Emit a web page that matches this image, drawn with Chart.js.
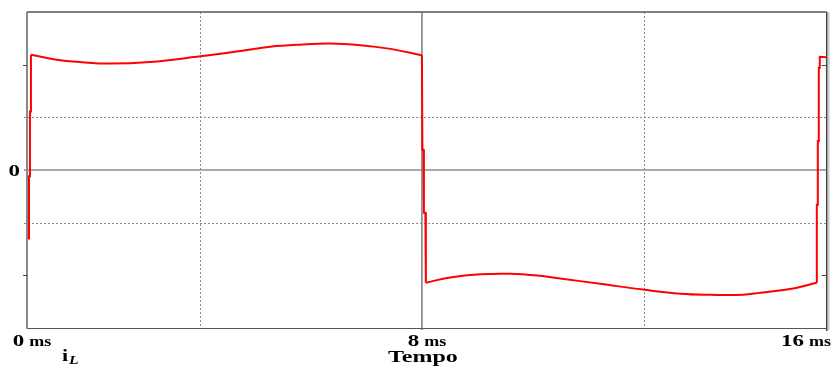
<!DOCTYPE html>
<html>
<head>
<meta charset="utf-8">
<script src="https://cdn.jsdelivr.net/npm/chart.js@4.4.0/dist/chart.umd.min.js"></script>
<style>
  html, body { margin: 0; padding: 0; background: #fff; }
  #wrap { width: 835px; height: 367px; }
</style>
</head>
<body>
<div id="wrap"><canvas id="grafico" width="835" height="367"></canvas></div>
<script>
// tempo em ms
const tempo = [
  0.04, 0.04, 0.06, 0.06, 0.08, 0.08,
  0.57, 1.07, 1.68, 2.49, 3.51, 4.32, 4.93, 5.53, 6.14, 6.75, 7.36, 8.00,
  8.01, 8.03, 8.04, 8.07, 8.08,
  8.57, 9.18, 9.79, 10.40, 10.80, 11.61, 12.48, 13.24, 13.84, 14.51, 14.86, 15.46, 16.00,
  16.00, 16.02, 16.02, 16.04, 16.04, 16.06, 16.06, 16.19
];
// corrente iL (unidades da grade)
const corrente = [
  -1.32, -0.12, -0.12, 1.11, 1.11, 2.19,
  2.10, 2.05, 2.02, 2.05, 2.16, 2.26, 2.34, 2.38, 2.40, 2.37, 2.30, 2.18,
  0.39, 0.39, -0.81, -0.81, -2.14,
  -2.04, -1.98, -1.97, -2.01, -2.06, -2.16, -2.27, -2.35, -2.37, -2.37, -2.33, -2.26, -2.14,
  -0.66, -0.66, 0.55, 0.55, 1.94, 1.94, 2.15, 2.14
];
// trechos: [inicio, fim, suave?]
const trechos = [[0, 5, false], [5, 17, true], [17, 22, false], [22, 35, true], [35, 43, false]];
const rotulosTempo = [0, 8, 16];
const gradeTempo = [3.5, 12.5];      // pontilhadas verticais
const linhaTempo = [8];              // linha cheia vertical
const gradeCorrente = [-1, 1];       // pontilhadas horizontais
const marcasCorrente = [-2, 2];
const FONTE = '"Liberation Serif", "DejaVu Serif", serif';

function textoLargo(ctx, txt, x, y, font, sx) {
  ctx.save();
  ctx.font = font;
  ctx.translate(x, y);
  ctx.scale(sx, 1);
  ctx.textAlign = 'left';
  ctx.fillText(txt, 0, 0);
  ctx.restore();
}
function largura(ctx, txt, font, sx) {
  ctx.save();
  ctx.font = font;
  const w = ctx.measureText(txt).width * sx;
  ctx.restore();
  return w;
}

const moldura = {
  id: 'moldura',
  beforeDatasetsDraw(chart) {
    const ctx = chart.ctx;
    const a = chart.chartArea;
    const xs = chart.scales.x, ys = chart.scales.y;
    ctx.save();
    // pontilhadas
    ctx.strokeStyle = '#8a8a8a';
    ctx.lineWidth = 1;
    ctx.setLineDash([2, 2]);
    gradeTempo.forEach(t => {
      const px = Math.round(xs.getPixelForValue(t)) + 0.5;
      ctx.beginPath(); ctx.moveTo(px, a.top); ctx.lineTo(px, a.bottom); ctx.stroke();
    });
    gradeCorrente.forEach(v => {
      const py = Math.round(ys.getPixelForValue(v)) + 0.5;
      ctx.beginPath(); ctx.moveTo(a.left - 3, py); ctx.lineTo(a.right, py); ctx.stroke();
    });
    ctx.setLineDash([]);
    // zero
    ctx.strokeStyle = '#8c8c8c';
    ctx.lineWidth = 1.5;
    const y0 = ys.getPixelForValue(0);
    ctx.beginPath(); ctx.moveTo(a.left - 3, y0); ctx.lineTo(a.right, y0); ctx.stroke();
    // 8 ms
    ctx.strokeStyle = '#7c7c7c';
    linhaTempo.forEach(t => {
      const px = xs.getPixelForValue(t);
      ctx.beginPath(); ctx.moveTo(px, a.top); ctx.lineTo(px, a.bottom + 2); ctx.stroke();
    });
    // bordas
    ctx.strokeStyle = '#555';
    ctx.lineWidth = 1.5;
    ctx.beginPath(); ctx.moveTo(a.left, a.top); ctx.lineTo(a.right, a.top); ctx.stroke();
    ctx.lineWidth = 1;
    ctx.beginPath(); ctx.moveTo(a.left, a.bottom + 0.5); ctx.lineTo(a.right, a.bottom + 0.5); ctx.stroke();
    ctx.strokeStyle = '#d0d0d0';
    ctx.lineWidth = 2;
    ctx.beginPath(); ctx.moveTo(a.right + 2, a.top); ctx.lineTo(a.right + 2, a.bottom + 2); ctx.stroke();
    ctx.strokeStyle = '#444';
    ctx.lineWidth = 1.5;
    ctx.beginPath(); ctx.moveTo(a.right, a.top); ctx.lineTo(a.right, a.bottom + 3); ctx.stroke();
    ctx.strokeStyle = '#888';
    ctx.lineWidth = 2;
    ctx.beginPath(); ctx.moveTo(a.left, a.top); ctx.lineTo(a.left, a.bottom + 1); ctx.stroke();
    // marcas
    ctx.strokeStyle = '#444';
    ctx.lineWidth = 1;
    marcasCorrente.forEach(v => {
      const py = Math.round(ys.getPixelForValue(v)) + 0.5;
      ctx.beginPath(); ctx.moveTo(a.left - 4, py); ctx.lineTo(a.left, py); ctx.stroke();
      ctx.beginPath(); ctx.moveTo(a.right - 5, py); ctx.lineTo(a.right, py); ctx.stroke();
    });
    ctx.restore();
  },
  afterDraw(chart) {
    const ctx = chart.ctx;
    const xs = chart.scales.x, ys = chart.scales.y;
    ctx.save();
    ctx.fillStyle = '#000';
    ctx.textBaseline = 'alphabetic';
    const fNum = 'bold 17px ' + FONTE;
    const fMs = 'bold 15px ' + FONTE;
    const sNum = 1.35, sMs = 1.2;
    // rotulo 0 do eixo y
    const w0 = largura(ctx, '0', fNum, sNum);
    textoLargo(ctx, '0', 20 - w0, ys.getPixelForValue(0) + 6, fNum, sNum);
    // rotulos de tempo
    rotulosTempo.forEach(t => {
      const num = String(t);
      const wn = largura(ctx, num, fNum, sNum);
      const wm = largura(ctx, 'ms', fMs, sMs);
      const w = wn + 5 + wm;
      let x = xs.getPixelForValue(t) + 5 - w / 2;
      x = Math.max(11, Math.min(x, 831 - w));
      textoLargo(ctx, num, x, 346, fNum, sNum);
      textoLargo(ctx, 'ms', x + wn + 5, 346, fMs, sMs);
    });
    // titulo do eixo
    const fT = 'bold 17.5px ' + FONTE;
    const wt = largura(ctx, 'Tempo', fT, 1.37);
    textoLargo(ctx, 'Tempo', xs.getPixelForValue(8) + 1 - wt / 2, 361.5, fT, 1.37);
    // iL
    textoLargo(ctx, 'i', 62, 361, 'bold 17px ' + FONTE, 1.3);
    textoLargo(ctx, 'L', 69, 364, 'italic bold 13px ' + FONTE, 1.2);
    ctx.restore();
  }
};

const conjuntos = trechos.map(([ini, fim, suave]) => ({
  label: 'iL',
  data: tempo.slice(ini, fim + 1).map((t, i) => ({ x: t, y: corrente[ini + i] })),
  borderColor: '#ff0000',
  borderWidth: 2,
  pointRadius: 0,
  tension: suave ? 0.4 : 0,
  fill: false
}));

const ctx = document.getElementById('grafico').getContext('2d');
const grafico = new Chart(ctx, {
  type: 'line',
  data: { datasets: conjuntos },
  options: {
    responsive: false,
    animation: false,
    devicePixelRatio: 1,
    layout: { padding: { left: 27, top: 12, right: 8.3, bottom: 39 } },
    plugins: { legend: { display: false }, tooltip: { enabled: false } },
    scales: {
      x: { type: 'linear', min: 0, max: 16.2, display: false },
      y: { type: 'linear', min: -3, max: 3, display: false }
    }
  },
  plugins: [moldura]
});
</script>
</body>
</html>
